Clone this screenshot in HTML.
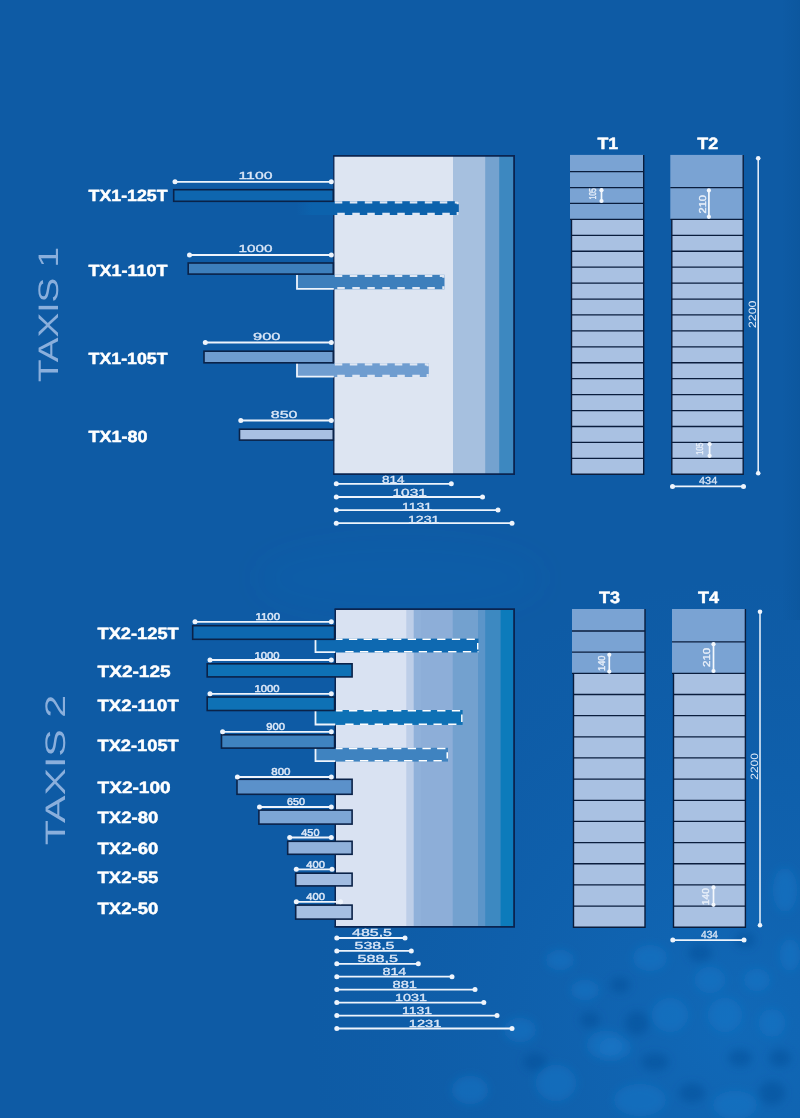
<!DOCTYPE html>
<html lang="en">
<head>
<meta charset="utf-8">
<title>TAXIS 1 / TAXIS 2</title>
<style>
html,body{margin:0;padding:0;background:#0e5ba5;}
body{width:800px;height:1118px;overflow:hidden;}
svg{display:block;font-family:"Liberation Sans",sans-serif;text-rendering:geometricPrecision;filter:blur(0.4px);}
</style>
</head>
<body>
<svg width="800" height="1118" viewBox="0 0 800 1118">
<defs>
<radialGradient id="glow" gradientUnits="userSpaceOnUse" cx="740" cy="1030" r="430" gradientTransform="translate(740 1030) scale(1 1.05) translate(-740 -1030)">
<stop offset="0" stop-color="#1272c4" stop-opacity="0.6"/>
<stop offset="0.45" stop-color="#126cbd" stop-opacity="0.35"/>
<stop offset="1" stop-color="#1066b6" stop-opacity="0"/>
</radialGradient>
<linearGradient id="fade" gradientUnits="userSpaceOnUse" x1="296" y1="0" x2="312" y2="0">
<stop offset="0" stop-color="#0c62ac" stop-opacity="0"/>
<stop offset="1" stop-color="#0c62ac" stop-opacity="1"/>
</linearGradient>
<linearGradient id="redge" gradientUnits="userSpaceOnUse" x1="782" y1="0" x2="800" y2="0">
<stop offset="0" stop-color="#0a5398" stop-opacity="0"/>
<stop offset="1" stop-color="#0a5398" stop-opacity="0.5"/>
</linearGradient>
<filter id="soft2" x="-30%" y="-60%" width="160%" height="220%"><feGaussianBlur stdDeviation="14"/></filter>
<filter id="soft" x="-20%" y="-20%" width="140%" height="140%"><feGaussianBlur stdDeviation="4.5"/></filter>
</defs>
<rect x="0" y="0" width="800" height="1118" fill="#0e5ba5"/>
<rect x="0" y="0" width="800" height="1118" fill="url(#glow)"/>
<ellipse cx="400" cy="578" rx="140" ry="34" fill="#1a6ebd" fill-opacity="0.10" filter="url(#soft2)"/>
<rect x="782" y="0" width="18" height="620" fill="url(#redge)"/>
<g filter="url(#soft)">
<ellipse cx="650" cy="958" rx="17" ry="13" fill="#1b7bca" fill-opacity="0.45"/>
<ellipse cx="710" cy="980" rx="15" ry="13" fill="#1b7bca" fill-opacity="0.45"/>
<ellipse cx="670" cy="1015" rx="18" ry="17" fill="#1b7bca" fill-opacity="0.45"/>
<ellipse cx="725" cy="1015" rx="17" ry="17" fill="#1b7bca" fill-opacity="0.45"/>
<ellipse cx="772" cy="1023" rx="13" ry="14" fill="#1b7bca" fill-opacity="0.45"/>
<ellipse cx="757" cy="980" rx="13" ry="11" fill="#1b7bca" fill-opacity="0.45"/>
<ellipse cx="615" cy="1048" rx="16" ry="11" fill="#1b7bca" fill-opacity="0.45"/>
<ellipse cx="605" cy="1045" rx="18" ry="14" fill="#1b7bca" fill-opacity="0.45"/>
<ellipse cx="556" cy="1083" rx="20" ry="18" fill="#1b7bca" fill-opacity="0.45"/>
<ellipse cx="700" cy="905" rx="16" ry="12" fill="#1b7bca" fill-opacity="0.45"/>
<ellipse cx="785" cy="890" rx="12" ry="22" fill="#1b7bca" fill-opacity="0.45"/>
<ellipse cx="585" cy="990" rx="14" ry="10" fill="#1b7bca" fill-opacity="0.45"/>
<ellipse cx="520" cy="1030" rx="16" ry="12" fill="#1b7bca" fill-opacity="0.45"/>
<ellipse cx="470" cy="1090" rx="18" ry="14" fill="#1b7bca" fill-opacity="0.45"/>
<ellipse cx="640" cy="1100" rx="26" ry="16" fill="#1b7bca" fill-opacity="0.45"/>
<ellipse cx="735" cy="1105" rx="22" ry="14" fill="#1b7bca" fill-opacity="0.45"/>
<ellipse cx="560" cy="960" rx="14" ry="10" fill="#1b7bca" fill-opacity="0.45"/>
<ellipse cx="790" cy="955" rx="10" ry="16" fill="#1b7bca" fill-opacity="0.45"/>
<ellipse cx="692" cy="1093" rx="13" ry="10" fill="#084c94" fill-opacity="0.45"/>
<ellipse cx="772" cy="1093" rx="13" ry="12" fill="#084c94" fill-opacity="0.45"/>
<ellipse cx="637" cy="1023" rx="12" ry="12" fill="#084c94" fill-opacity="0.45"/>
<ellipse cx="700" cy="953" rx="12" ry="9" fill="#084c94" fill-opacity="0.45"/>
<ellipse cx="780" cy="1058" rx="11" ry="9" fill="#084c94" fill-opacity="0.45"/>
<ellipse cx="740" cy="1058" rx="12" ry="9" fill="#084c94" fill-opacity="0.45"/>
<ellipse cx="655" cy="1062" rx="14" ry="9" fill="#084c94" fill-opacity="0.45"/>
<ellipse cx="590" cy="1020" rx="10" ry="8" fill="#084c94" fill-opacity="0.45"/>
<ellipse cx="535" cy="1062" rx="12" ry="9" fill="#084c94" fill-opacity="0.45"/>
<ellipse cx="745" cy="940" rx="10" ry="8" fill="#084c94" fill-opacity="0.45"/>
<ellipse cx="620" cy="985" rx="10" ry="8" fill="#084c94" fill-opacity="0.45"/>
</g>
<rect x="333.80" y="155.90" width="180.30" height="318.20" fill="#dde5f2" />
<rect x="453.00" y="155.90" width="61.10" height="318.20" fill="#a6c0df" />
<rect x="485.20" y="155.90" width="28.90" height="318.20" fill="#74a2cf" />
<rect x="499.20" y="155.90" width="14.90" height="318.20" fill="#3d88c0" />
<path d="M333.80 474.10 V155.90" fill="none" stroke="#0a2450" stroke-width="1.3"/>
<path d="M333.15 155.90 H514.10 V474.10 H333.15" fill="none" stroke="#0a2450" stroke-width="1.8" stroke-linejoin="miter"/>
<rect x="297.00" y="201.20" width="37.80" height="13.80" fill="url(#fade)" />
<rect x="333.80" y="201.20" width="125.00" height="13.80" fill="#0c62ac" />
<path d="M334.80 202.30 H342.30 M349.80 202.30 H357.30 M364.80 202.30 H372.30 M379.80 202.30 H387.30 M394.80 202.30 H402.30 M409.80 202.30 H417.30 M424.80 202.30 H432.30 M439.80 202.30 H447.30 M454.80 202.30 H458.80 M337.30 213.90 H344.80 M352.30 213.90 H359.80 M367.30 213.90 H374.80 M382.30 213.90 H389.80 M397.30 213.90 H404.80 M412.30 213.90 H419.80 M427.30 213.90 H434.80 M442.30 213.90 H449.80 M457.30 213.90 H458.80 M457.70 201.20 V204.20 M457.70 212.00 V215.00" fill="none" stroke="#dfe7f3" stroke-width="2.2"/>
<rect x="297.00" y="274.80" width="147.50" height="14.50" fill="#3d7fbc" />
<path d="M297.00 274.80 V288.90 H333.80" fill="none" stroke="#eef4fc" stroke-width="1.8"/>
<path d="M334.80 275.90 H342.30 M349.80 275.90 H357.30 M364.80 275.90 H372.30 M379.80 275.90 H387.30 M394.80 275.90 H402.30 M409.80 275.90 H417.30 M424.80 275.90 H432.30 M439.80 275.90 H444.50 M337.30 288.20 H344.80 M352.30 288.20 H359.80 M367.30 288.20 H374.80 M382.30 288.20 H389.80 M397.30 288.20 H404.80 M412.30 288.20 H419.80 M427.30 288.20 H434.80 M442.30 288.20 H444.50 M443.40 274.80 V277.80 M443.40 286.30 V289.30" fill="none" stroke="#dfe7f3" stroke-width="2.2"/>
<rect x="297.00" y="363.30" width="131.80" height="13.70" fill="#6f9dd0" />
<path d="M297.00 363.30 V376.60 H333.80" fill="none" stroke="#eef4fc" stroke-width="1.8"/>
<path d="M334.80 364.40 H342.30 M349.80 364.40 H357.30 M364.80 364.40 H372.30 M379.80 364.40 H387.30 M394.80 364.40 H402.30 M409.80 364.40 H417.30 M424.80 364.40 H428.80 M337.30 375.90 H344.80 M352.30 375.90 H359.80 M367.30 375.90 H374.80 M382.30 375.90 H389.80 M397.30 375.90 H404.80 M412.30 375.90 H419.80 M427.30 375.90 H428.80 M427.70 363.30 V366.30 M427.70 374.00 V377.00" fill="none" stroke="#dfe7f3" stroke-width="2.2"/>
<rect x="173.70" y="189.70" width="159.60" height="11.60" fill="#0e66af" stroke="#0a2248" stroke-width="1.6" />
<line x1="175.00" y1="181.80" x2="331.30" y2="181.80" stroke="#eef4fc" stroke-width="1.8" />
<circle cx="175.00" cy="181.80" r="2.5" fill="#eef4fc"/>
<circle cx="331.30" cy="181.80" r="2.5" fill="#eef4fc"/>
<text x="238.50" y="179.20" font-size="10.3" font-weight="normal" fill="#dbe7f7" text-anchor="start" textLength="34.00" lengthAdjust="spacingAndGlyphs" stroke="#dbe7f7" stroke-width="0.3">1100</text>
<text x="88.60" y="201.00" font-size="16.2" font-weight="bold" fill="#ffffff" text-anchor="start" textLength="79.00" lengthAdjust="spacingAndGlyphs" stroke="#ffffff" stroke-width="0.45" stroke-linejoin="round" >TX1-125T</text>
<rect x="188.20" y="263.00" width="145.10" height="11.10" fill="#3d7fbc" stroke="#0a2248" stroke-width="1.6" />
<line x1="189.50" y1="255.00" x2="331.30" y2="255.00" stroke="#eef4fc" stroke-width="1.8" />
<circle cx="189.50" cy="255.00" r="2.5" fill="#eef4fc"/>
<circle cx="331.30" cy="255.00" r="2.5" fill="#eef4fc"/>
<text x="238.50" y="252.20" font-size="10.3" font-weight="normal" fill="#dbe7f7" text-anchor="start" textLength="34.00" lengthAdjust="spacingAndGlyphs" stroke="#dbe7f7" stroke-width="0.3">1000</text>
<text x="88.60" y="276.00" font-size="16.2" font-weight="bold" fill="#ffffff" text-anchor="start" textLength="79.00" lengthAdjust="spacingAndGlyphs" stroke="#ffffff" stroke-width="0.45" stroke-linejoin="round" >TX1-110T</text>
<rect x="204.00" y="351.20" width="129.30" height="11.60" fill="#6f9dd0" stroke="#0a2248" stroke-width="1.6" />
<line x1="205.30" y1="342.50" x2="331.30" y2="342.50" stroke="#eef4fc" stroke-width="1.8" />
<circle cx="205.30" cy="342.50" r="2.5" fill="#eef4fc"/>
<circle cx="331.30" cy="342.50" r="2.5" fill="#eef4fc"/>
<text x="253.00" y="340.00" font-size="10.3" font-weight="normal" fill="#dbe7f7" text-anchor="start" textLength="27.50" lengthAdjust="spacingAndGlyphs" stroke="#dbe7f7" stroke-width="0.3">900</text>
<text x="88.60" y="364.00" font-size="16.2" font-weight="bold" fill="#ffffff" text-anchor="start" textLength="79.00" lengthAdjust="spacingAndGlyphs" stroke="#ffffff" stroke-width="0.45" stroke-linejoin="round" >TX1-105T</text>
<rect x="239.50" y="429.20" width="93.80" height="10.90" fill="#a8c0e2" stroke="#0a2248" stroke-width="1.6" />
<line x1="240.80" y1="420.50" x2="331.30" y2="420.50" stroke="#eef4fc" stroke-width="1.8" />
<circle cx="240.80" cy="420.50" r="2.5" fill="#eef4fc"/>
<circle cx="331.30" cy="420.50" r="2.5" fill="#eef4fc"/>
<text x="270.80" y="417.80" font-size="10.3" font-weight="normal" fill="#dbe7f7" text-anchor="start" textLength="26.70" lengthAdjust="spacingAndGlyphs" stroke="#dbe7f7" stroke-width="0.3">850</text>
<text x="88.60" y="442.00" font-size="16.2" font-weight="bold" fill="#ffffff" text-anchor="start" textLength="59.00" lengthAdjust="spacingAndGlyphs" stroke="#ffffff" stroke-width="0.45" stroke-linejoin="round" >TX1-80</text>
<line x1="336.30" y1="483.80" x2="451.30" y2="483.80" stroke="#eef4fc" stroke-width="1.8" />
<circle cx="336.30" cy="483.80" r="2.5" fill="#eef4fc"/>
<circle cx="451.30" cy="483.80" r="2.5" fill="#eef4fc"/>
<text x="382.00" y="483.20" font-size="10.3" font-weight="normal" fill="#dbe7f7" text-anchor="start" textLength="22.50" lengthAdjust="spacingAndGlyphs" stroke="#dbe7f7" stroke-width="0.3">814</text>
<line x1="336.30" y1="497.00" x2="482.50" y2="497.00" stroke="#eef4fc" stroke-width="1.8" />
<circle cx="336.30" cy="497.00" r="2.5" fill="#eef4fc"/>
<circle cx="482.50" cy="497.00" r="2.5" fill="#eef4fc"/>
<text x="392.50" y="496.40" font-size="10.3" font-weight="normal" fill="#dbe7f7" text-anchor="start" textLength="34.50" lengthAdjust="spacingAndGlyphs" stroke="#dbe7f7" stroke-width="0.3">1031</text>
<line x1="336.30" y1="510.10" x2="498.00" y2="510.10" stroke="#eef4fc" stroke-width="1.8" />
<circle cx="336.30" cy="510.10" r="2.5" fill="#eef4fc"/>
<circle cx="498.00" cy="510.10" r="2.5" fill="#eef4fc"/>
<text x="402.00" y="509.50" font-size="10.3" font-weight="normal" fill="#dbe7f7" text-anchor="start" textLength="30.00" lengthAdjust="spacingAndGlyphs" stroke="#dbe7f7" stroke-width="0.3">1131</text>
<line x1="336.30" y1="523.20" x2="512.00" y2="523.20" stroke="#eef4fc" stroke-width="1.8" />
<circle cx="336.30" cy="523.20" r="2.5" fill="#eef4fc"/>
<circle cx="512.00" cy="523.20" r="2.5" fill="#eef4fc"/>
<text x="408.00" y="522.60" font-size="10.3" font-weight="normal" fill="#dbe7f7" text-anchor="start" textLength="31.50" lengthAdjust="spacingAndGlyphs" stroke="#dbe7f7" stroke-width="0.3">1231</text>
<text x="57.90" y="382.00" font-size="28.2" font-weight="normal" fill="#8aafdc" text-anchor="start" textLength="135.20" lengthAdjust="spacingAndGlyphs" transform="rotate(-90 57.90 382.00)" >TAXIS 1</text>
<rect x="570.00" y="154.90" width="73.70" height="64.49" fill="#7aa3d3" />
<rect x="571.50" y="219.39" width="72.20" height="254.88" fill="#a9c1e2" />
<path d="M643.70 154.90 V474.27 H571.50 V219.39" fill="none" stroke="#0a1d3c" stroke-width="1.4"/>
<line x1="570.00" y1="171.60" x2="643.70" y2="171.60" stroke="#0a1d3c" stroke-width="1.3" />
<line x1="570.00" y1="187.53" x2="643.70" y2="187.53" stroke="#0a1d3c" stroke-width="1.3" />
<line x1="570.00" y1="203.46" x2="643.70" y2="203.46" stroke="#0a1d3c" stroke-width="1.3" />
<line x1="570.00" y1="219.39" x2="643.70" y2="219.39" stroke="#0a1d3c" stroke-width="1.3" />
<line x1="571.50" y1="235.32" x2="643.70" y2="235.32" stroke="#0a1d3c" stroke-width="1.3" />
<line x1="571.50" y1="251.25" x2="643.70" y2="251.25" stroke="#0a1d3c" stroke-width="1.3" />
<line x1="571.50" y1="267.18" x2="643.70" y2="267.18" stroke="#0a1d3c" stroke-width="1.3" />
<line x1="571.50" y1="283.11" x2="643.70" y2="283.11" stroke="#0a1d3c" stroke-width="1.3" />
<line x1="571.50" y1="299.04" x2="643.70" y2="299.04" stroke="#0a1d3c" stroke-width="1.3" />
<line x1="571.50" y1="314.97" x2="643.70" y2="314.97" stroke="#0a1d3c" stroke-width="1.3" />
<line x1="571.50" y1="330.90" x2="643.70" y2="330.90" stroke="#0a1d3c" stroke-width="1.3" />
<line x1="571.50" y1="346.83" x2="643.70" y2="346.83" stroke="#0a1d3c" stroke-width="1.3" />
<line x1="571.50" y1="362.76" x2="643.70" y2="362.76" stroke="#0a1d3c" stroke-width="1.3" />
<line x1="571.50" y1="378.69" x2="643.70" y2="378.69" stroke="#0a1d3c" stroke-width="1.3" />
<line x1="571.50" y1="394.62" x2="643.70" y2="394.62" stroke="#0a1d3c" stroke-width="1.3" />
<line x1="571.50" y1="410.55" x2="643.70" y2="410.55" stroke="#0a1d3c" stroke-width="1.3" />
<line x1="571.50" y1="426.48" x2="643.70" y2="426.48" stroke="#0a1d3c" stroke-width="1.3" />
<line x1="571.50" y1="442.41" x2="643.70" y2="442.41" stroke="#0a1d3c" stroke-width="1.3" />
<line x1="571.50" y1="458.34" x2="643.70" y2="458.34" stroke="#0a1d3c" stroke-width="1.3" />
<text x="597.50" y="148.80" font-size="16.4" font-weight="bold" fill="#ffffff" text-anchor="start" textLength="20.70" lengthAdjust="spacingAndGlyphs" stroke="#ffffff" stroke-width="0.45" stroke-linejoin="round" >T1</text>
<rect x="670.30" y="154.90" width="72.90" height="64.49" fill="#7aa3d3" />
<rect x="671.80" y="219.39" width="71.40" height="254.88" fill="#a9c1e2" />
<path d="M743.20 154.90 V474.27 H671.80 V219.39" fill="none" stroke="#0a1d3c" stroke-width="1.4"/>
<line x1="670.30" y1="187.53" x2="743.20" y2="187.53" stroke="#0a1d3c" stroke-width="1.3" />
<line x1="670.30" y1="219.39" x2="743.20" y2="219.39" stroke="#0a1d3c" stroke-width="1.3" />
<line x1="671.80" y1="235.32" x2="743.20" y2="235.32" stroke="#0a1d3c" stroke-width="1.3" />
<line x1="671.80" y1="251.25" x2="743.20" y2="251.25" stroke="#0a1d3c" stroke-width="1.3" />
<line x1="671.80" y1="267.18" x2="743.20" y2="267.18" stroke="#0a1d3c" stroke-width="1.3" />
<line x1="671.80" y1="283.11" x2="743.20" y2="283.11" stroke="#0a1d3c" stroke-width="1.3" />
<line x1="671.80" y1="299.04" x2="743.20" y2="299.04" stroke="#0a1d3c" stroke-width="1.3" />
<line x1="671.80" y1="314.97" x2="743.20" y2="314.97" stroke="#0a1d3c" stroke-width="1.3" />
<line x1="671.80" y1="330.90" x2="743.20" y2="330.90" stroke="#0a1d3c" stroke-width="1.3" />
<line x1="671.80" y1="346.83" x2="743.20" y2="346.83" stroke="#0a1d3c" stroke-width="1.3" />
<line x1="671.80" y1="362.76" x2="743.20" y2="362.76" stroke="#0a1d3c" stroke-width="1.3" />
<line x1="671.80" y1="378.69" x2="743.20" y2="378.69" stroke="#0a1d3c" stroke-width="1.3" />
<line x1="671.80" y1="394.62" x2="743.20" y2="394.62" stroke="#0a1d3c" stroke-width="1.3" />
<line x1="671.80" y1="410.55" x2="743.20" y2="410.55" stroke="#0a1d3c" stroke-width="1.3" />
<line x1="671.80" y1="426.48" x2="743.20" y2="426.48" stroke="#0a1d3c" stroke-width="1.3" />
<line x1="671.80" y1="442.41" x2="743.20" y2="442.41" stroke="#0a1d3c" stroke-width="1.3" />
<line x1="671.80" y1="458.34" x2="743.20" y2="458.34" stroke="#0a1d3c" stroke-width="1.3" />
<text x="697.30" y="148.80" font-size="16.4" font-weight="bold" fill="#ffffff" text-anchor="start" textLength="20.90" lengthAdjust="spacingAndGlyphs" stroke="#ffffff" stroke-width="0.45" stroke-linejoin="round" >T2</text>
<line x1="601.50" y1="189.60" x2="601.50" y2="201.60" stroke="#f4f8fd" stroke-width="1.7" />
<circle cx="601.50" cy="190.20" r="2.1" fill="#f4f8fd"/>
<circle cx="601.50" cy="201.00" r="2.1" fill="#f4f8fd"/>
<text x="595.90" y="199.60" font-size="10.0" font-weight="normal" fill="#e9f0fa" text-anchor="start" textLength="11.40" lengthAdjust="spacingAndGlyphs" transform="rotate(-90 595.90 199.60)" stroke="#e9f0fa" stroke-width="0.35">105</text>
<line x1="708.90" y1="189.80" x2="708.90" y2="217.40" stroke="#f4f8fd" stroke-width="1.7" />
<circle cx="708.90" cy="190.40" r="2.1" fill="#f4f8fd"/>
<circle cx="708.90" cy="216.80" r="2.1" fill="#f4f8fd"/>
<text x="706.20" y="213.50" font-size="10.0" font-weight="normal" fill="#e9f0fa" text-anchor="start" textLength="18.50" lengthAdjust="spacingAndGlyphs" transform="rotate(-90 706.20 213.50)" stroke="#e9f0fa" stroke-width="0.35">210</text>
<line x1="709.60" y1="443.60" x2="709.60" y2="456.40" stroke="#f4f8fd" stroke-width="1.7" />
<circle cx="709.60" cy="444.20" r="2.1" fill="#f4f8fd"/>
<circle cx="709.60" cy="455.80" r="2.1" fill="#f4f8fd"/>
<text x="703.20" y="454.80" font-size="10.0" font-weight="normal" fill="#e9f0fa" text-anchor="start" textLength="12.20" lengthAdjust="spacingAndGlyphs" transform="rotate(-90 703.20 454.80)" stroke="#e9f0fa" stroke-width="0.35">105</text>
<line x1="758.20" y1="158.20" x2="758.20" y2="473.20" stroke="#eef4fc" stroke-width="1.5" />
<circle cx="758.20" cy="158.20" r="2.3" fill="#eef4fc"/>
<circle cx="758.20" cy="473.20" r="2.3" fill="#eef4fc"/>
<text x="756.00" y="328.00" font-size="10.6" font-weight="normal" fill="#e0eaf8" text-anchor="start" textLength="27.50" lengthAdjust="spacingAndGlyphs" transform="rotate(-90 756.00 328.00)" >2200</text>
<line x1="672.50" y1="486.40" x2="743.50" y2="486.40" stroke="#eef4fc" stroke-width="1.8" />
<circle cx="672.50" cy="486.40" r="2.5" fill="#eef4fc"/>
<circle cx="743.50" cy="486.40" r="2.5" fill="#eef4fc"/>
<text x="699.00" y="484.20" font-size="10.3" font-weight="normal" fill="#dbe7f7" text-anchor="start" textLength="18.30" lengthAdjust="spacingAndGlyphs" stroke="#dbe7f7" stroke-width="0.3">434</text>
<rect x="335.25" y="609.10" width="178.85" height="317.80" fill="#d9e2f2" />
<rect x="406.30" y="609.10" width="107.80" height="317.80" fill="#bdcee8" />
<rect x="413.70" y="609.10" width="100.40" height="317.80" fill="#90b1da" />
<rect x="421.00" y="609.10" width="93.10" height="317.80" fill="#8daed8" />
<rect x="452.70" y="609.10" width="61.40" height="317.80" fill="#73a1cf" />
<rect x="478.00" y="609.10" width="36.10" height="317.80" fill="#5b95c9" />
<rect x="485.20" y="609.10" width="28.90" height="317.80" fill="#3d89c1" />
<rect x="500.60" y="609.10" width="13.50" height="317.80" fill="#0c7bbb" />
<path d="M335.25 926.90 V609.10" fill="none" stroke="#0a2450" stroke-width="1.5"/>
<path d="M334.50 609.10 H514.10 V926.90 H334.50" fill="none" stroke="#0a2450" stroke-width="1.8" stroke-linejoin="miter"/>
<rect x="315.50" y="638.60" width="163.00" height="13.90" fill="#0e69b1" />
<path d="M315.50 638.60 V652.10 H335.25" fill="none" stroke="#eef4fc" stroke-width="1.8"/>
<path d="M336.05 639.35 H342.55 M348.95 639.35 H357.25 M363.65 639.35 H371.95 M378.35 639.35 H386.65 M393.05 639.35 H401.35 M407.75 639.35 H416.05 M422.45 639.35 H430.75 M437.15 639.35 H445.45 M451.85 639.35 H460.15 M466.55 639.35 H474.85 M345.25 651.75 H353.55 M359.95 651.75 H368.25 M374.65 651.75 H382.95 M389.35 651.75 H397.65 M404.05 651.75 H412.35 M418.75 651.75 H427.05 M433.45 651.75 H441.75 M448.15 651.75 H456.45 M462.85 651.75 H471.15 M477.55 651.75 H478.50 M477.75 643.10 V649.50" fill="none" stroke="#ffffff" stroke-width="1.5"/>
<rect x="315.50" y="710.00" width="147.10" height="14.90" fill="#0e71b5" />
<path d="M315.50 710.00 V724.50 H335.25" fill="none" stroke="#eef4fc" stroke-width="1.8"/>
<path d="M336.05 710.75 H342.55 M348.95 710.75 H357.25 M363.65 710.75 H371.95 M378.35 710.75 H386.65 M393.05 710.75 H401.35 M407.75 710.75 H416.05 M422.45 710.75 H430.75 M437.15 710.75 H445.45 M451.85 710.75 H460.15 M345.25 724.15 H353.55 M359.95 724.15 H368.25 M374.65 724.15 H382.95 M389.35 724.15 H397.65 M404.05 724.15 H412.35 M418.75 724.15 H427.05 M433.45 724.15 H441.75 M448.15 724.15 H456.45 M461.85 714.50 V721.90" fill="none" stroke="#ffffff" stroke-width="1.5"/>
<rect x="315.50" y="747.80" width="132.50" height="13.80" fill="#3f83c0" />
<path d="M315.50 747.80 V761.20 H335.25" fill="none" stroke="#eef4fc" stroke-width="1.8"/>
<path d="M336.05 748.55 H342.55 M348.95 748.55 H357.25 M363.65 748.55 H371.95 M378.35 748.55 H386.65 M393.05 748.55 H401.35 M407.75 748.55 H416.05 M422.45 748.55 H430.75 M437.15 748.55 H445.45 M345.25 760.85 H353.55 M359.95 760.85 H368.25 M374.65 760.85 H382.95 M389.35 760.85 H397.65 M404.05 760.85 H412.35 M418.75 760.85 H427.05 M433.45 760.85 H441.75 M447.25 752.30 V758.60" fill="none" stroke="#ffffff" stroke-width="1.5"/>
<rect x="192.70" y="625.70" width="141.90" height="13.60" fill="#0d68b0" stroke="#0a2248" stroke-width="1.6" />
<line x1="195.00" y1="621.80" x2="331.30" y2="621.80" stroke="#eef4fc" stroke-width="1.8" />
<circle cx="195.00" cy="621.80" r="2.5" fill="#eef4fc"/>
<circle cx="331.30" cy="621.80" r="2.5" fill="#eef4fc"/>
<text x="255.50" y="620.40" font-size="10.0" font-weight="normal" fill="#dbe7f7" text-anchor="start" textLength="24.50" lengthAdjust="spacingAndGlyphs" stroke="#dbe7f7" stroke-width="0.5">1100</text>
<text x="97.50" y="639.30" font-size="16.4" font-weight="bold" fill="#ffffff" text-anchor="start" textLength="81.20" lengthAdjust="spacingAndGlyphs" stroke="#ffffff" stroke-width="0.45" stroke-linejoin="round" >TX2-125T</text>
<rect x="207.20" y="663.80" width="144.90" height="13.10" fill="#0e71b5" stroke="#0a2248" stroke-width="1.6" />
<line x1="210.00" y1="660.00" x2="331.30" y2="660.00" stroke="#eef4fc" stroke-width="1.8" />
<circle cx="210.00" cy="660.00" r="2.5" fill="#eef4fc"/>
<circle cx="331.30" cy="660.00" r="2.5" fill="#eef4fc"/>
<text x="254.50" y="658.60" font-size="10.0" font-weight="normal" fill="#dbe7f7" text-anchor="start" textLength="25.00" lengthAdjust="spacingAndGlyphs" stroke="#dbe7f7" stroke-width="0.5">1000</text>
<text x="97.50" y="677.30" font-size="16.4" font-weight="bold" fill="#ffffff" text-anchor="start" textLength="73.20" lengthAdjust="spacingAndGlyphs" stroke="#ffffff" stroke-width="0.45" stroke-linejoin="round" >TX2-125</text>
<rect x="207.20" y="697.00" width="127.40" height="13.50" fill="#0e71b5" stroke="#0a2248" stroke-width="1.6" />
<line x1="210.00" y1="693.80" x2="331.30" y2="693.80" stroke="#eef4fc" stroke-width="1.8" />
<circle cx="210.00" cy="693.80" r="2.5" fill="#eef4fc"/>
<circle cx="331.30" cy="693.80" r="2.5" fill="#eef4fc"/>
<text x="254.50" y="692.40" font-size="10.0" font-weight="normal" fill="#dbe7f7" text-anchor="start" textLength="25.00" lengthAdjust="spacingAndGlyphs" stroke="#dbe7f7" stroke-width="0.5">1000</text>
<text x="97.50" y="710.80" font-size="16.4" font-weight="bold" fill="#ffffff" text-anchor="start" textLength="81.20" lengthAdjust="spacingAndGlyphs" stroke="#ffffff" stroke-width="0.45" stroke-linejoin="round" >TX2-110T</text>
<rect x="221.50" y="734.80" width="113.10" height="13.30" fill="#3f83c0" stroke="#0a2248" stroke-width="1.6" />
<line x1="222.60" y1="731.80" x2="331.30" y2="731.80" stroke="#eef4fc" stroke-width="1.8" />
<circle cx="222.60" cy="731.80" r="2.5" fill="#eef4fc"/>
<circle cx="331.30" cy="731.80" r="2.5" fill="#eef4fc"/>
<text x="266.30" y="730.20" font-size="10.0" font-weight="normal" fill="#dbe7f7" text-anchor="start" textLength="18.70" lengthAdjust="spacingAndGlyphs" stroke="#dbe7f7" stroke-width="0.5">900</text>
<text x="97.50" y="750.60" font-size="16.4" font-weight="bold" fill="#ffffff" text-anchor="start" textLength="81.20" lengthAdjust="spacingAndGlyphs" stroke="#ffffff" stroke-width="0.45" stroke-linejoin="round" >TX2-105T</text>
<rect x="237.00" y="779.30" width="115.10" height="15.00" fill="#5b91ca" stroke="#0a2248" stroke-width="1.6" />
<line x1="237.40" y1="777.00" x2="331.30" y2="777.00" stroke="#eef4fc" stroke-width="1.8" />
<circle cx="237.40" cy="777.00" r="2.5" fill="#eef4fc"/>
<circle cx="331.30" cy="777.00" r="2.5" fill="#eef4fc"/>
<text x="271.30" y="774.60" font-size="10.0" font-weight="normal" fill="#dbe7f7" text-anchor="start" textLength="19.20" lengthAdjust="spacingAndGlyphs" stroke="#dbe7f7" stroke-width="0.5">800</text>
<text x="97.50" y="793.10" font-size="16.4" font-weight="bold" fill="#ffffff" text-anchor="start" textLength="73.20" lengthAdjust="spacingAndGlyphs" stroke="#ffffff" stroke-width="0.45" stroke-linejoin="round" >TX2-100</text>
<rect x="258.90" y="810.10" width="93.20" height="14.00" fill="#7da6d5" stroke="#0a2248" stroke-width="1.6" />
<line x1="259.50" y1="807.00" x2="331.30" y2="807.00" stroke="#eef4fc" stroke-width="1.8" />
<circle cx="259.50" cy="807.00" r="2.5" fill="#eef4fc"/>
<circle cx="331.30" cy="807.00" r="2.5" fill="#eef4fc"/>
<text x="287.00" y="804.60" font-size="10.0" font-weight="normal" fill="#dbe7f7" text-anchor="start" textLength="18.00" lengthAdjust="spacingAndGlyphs" stroke="#dbe7f7" stroke-width="0.5">650</text>
<text x="97.50" y="823.10" font-size="16.4" font-weight="bold" fill="#ffffff" text-anchor="start" textLength="60.80" lengthAdjust="spacingAndGlyphs" stroke="#ffffff" stroke-width="0.45" stroke-linejoin="round" >TX2-80</text>
<rect x="287.70" y="841.30" width="64.40" height="13.00" fill="#90b1db" stroke="#0a2248" stroke-width="1.6" />
<line x1="289.70" y1="837.50" x2="331.30" y2="837.50" stroke="#eef4fc" stroke-width="1.8" />
<circle cx="289.70" cy="837.50" r="2.5" fill="#eef4fc"/>
<circle cx="331.30" cy="837.50" r="2.5" fill="#eef4fc"/>
<text x="301.30" y="835.60" font-size="10.0" font-weight="normal" fill="#dbe7f7" text-anchor="start" textLength="18.20" lengthAdjust="spacingAndGlyphs" stroke="#dbe7f7" stroke-width="0.5">450</text>
<text x="97.50" y="853.60" font-size="16.4" font-weight="bold" fill="#ffffff" text-anchor="start" textLength="60.80" lengthAdjust="spacingAndGlyphs" stroke="#ffffff" stroke-width="0.45" stroke-linejoin="round" >TX2-60</text>
<rect x="295.70" y="873.20" width="56.40" height="12.70" fill="#a1bce1" stroke="#0a2248" stroke-width="1.6" />
<line x1="296.30" y1="869.30" x2="332.00" y2="869.30" stroke="#eef4fc" stroke-width="1.8" />
<circle cx="296.30" cy="869.30" r="2.5" fill="#eef4fc"/>
<circle cx="332.00" cy="869.30" r="2.5" fill="#eef4fc"/>
<text x="306.30" y="867.60" font-size="10.0" font-weight="normal" fill="#dbe7f7" text-anchor="start" textLength="18.70" lengthAdjust="spacingAndGlyphs" stroke="#dbe7f7" stroke-width="0.5">400</text>
<text x="97.50" y="883.10" font-size="16.4" font-weight="bold" fill="#ffffff" text-anchor="start" textLength="60.80" lengthAdjust="spacingAndGlyphs" stroke="#ffffff" stroke-width="0.45" stroke-linejoin="round" >TX2-55</text>
<rect x="295.70" y="905.10" width="56.40" height="14.00" fill="#a5bfe2" stroke="#0a2248" stroke-width="1.6" />
<line x1="296.30" y1="901.80" x2="340.50" y2="901.80" stroke="#eef4fc" stroke-width="1.8" />
<circle cx="296.30" cy="901.80" r="2.5" fill="#eef4fc"/>
<circle cx="340.50" cy="901.80" r="2.5" fill="#eef4fc"/>
<text x="306.30" y="900.20" font-size="10.0" font-weight="normal" fill="#dbe7f7" text-anchor="start" textLength="18.70" lengthAdjust="spacingAndGlyphs" stroke="#dbe7f7" stroke-width="0.5">400</text>
<text x="97.50" y="913.60" font-size="16.4" font-weight="bold" fill="#ffffff" text-anchor="start" textLength="60.80" lengthAdjust="spacingAndGlyphs" stroke="#ffffff" stroke-width="0.45" stroke-linejoin="round" >TX2-50</text>
<line x1="336.80" y1="938.00" x2="405.00" y2="938.00" stroke="#eef4fc" stroke-width="1.8" />
<circle cx="336.80" cy="938.00" r="2.5" fill="#eef4fc"/>
<circle cx="405.00" cy="938.00" r="2.5" fill="#eef4fc"/>
<text x="352.00" y="936.20" font-size="10.3" font-weight="normal" fill="#dbe7f7" text-anchor="start" textLength="40.00" lengthAdjust="spacingAndGlyphs" stroke="#dbe7f7" stroke-width="0.3">485,5</text>
<line x1="336.80" y1="950.90" x2="411.30" y2="950.90" stroke="#eef4fc" stroke-width="1.8" />
<circle cx="336.80" cy="950.90" r="2.5" fill="#eef4fc"/>
<circle cx="411.30" cy="950.90" r="2.5" fill="#eef4fc"/>
<text x="354.50" y="949.10" font-size="10.3" font-weight="normal" fill="#dbe7f7" text-anchor="start" textLength="40.00" lengthAdjust="spacingAndGlyphs" stroke="#dbe7f7" stroke-width="0.3">538,5</text>
<line x1="336.80" y1="963.80" x2="418.30" y2="963.80" stroke="#eef4fc" stroke-width="1.8" />
<circle cx="336.80" cy="963.80" r="2.5" fill="#eef4fc"/>
<circle cx="418.30" cy="963.80" r="2.5" fill="#eef4fc"/>
<text x="357.50" y="962.00" font-size="10.3" font-weight="normal" fill="#dbe7f7" text-anchor="start" textLength="40.50" lengthAdjust="spacingAndGlyphs" stroke="#dbe7f7" stroke-width="0.3">588,5</text>
<line x1="336.80" y1="976.70" x2="452.00" y2="976.70" stroke="#eef4fc" stroke-width="1.8" />
<circle cx="336.80" cy="976.70" r="2.5" fill="#eef4fc"/>
<circle cx="452.00" cy="976.70" r="2.5" fill="#eef4fc"/>
<text x="382.50" y="974.90" font-size="10.3" font-weight="normal" fill="#dbe7f7" text-anchor="start" textLength="23.80" lengthAdjust="spacingAndGlyphs" stroke="#dbe7f7" stroke-width="0.3">814</text>
<line x1="336.80" y1="989.60" x2="475.00" y2="989.60" stroke="#eef4fc" stroke-width="1.8" />
<circle cx="336.80" cy="989.60" r="2.5" fill="#eef4fc"/>
<circle cx="475.00" cy="989.60" r="2.5" fill="#eef4fc"/>
<text x="392.50" y="987.80" font-size="10.3" font-weight="normal" fill="#dbe7f7" text-anchor="start" textLength="24.50" lengthAdjust="spacingAndGlyphs" stroke="#dbe7f7" stroke-width="0.3">881</text>
<line x1="336.80" y1="1002.60" x2="483.80" y2="1002.60" stroke="#eef4fc" stroke-width="1.8" />
<circle cx="336.80" cy="1002.60" r="2.5" fill="#eef4fc"/>
<circle cx="483.80" cy="1002.60" r="2.5" fill="#eef4fc"/>
<text x="395.00" y="1000.80" font-size="10.3" font-weight="normal" fill="#dbe7f7" text-anchor="start" textLength="32.00" lengthAdjust="spacingAndGlyphs" stroke="#dbe7f7" stroke-width="0.3">1031</text>
<line x1="336.80" y1="1015.60" x2="497.00" y2="1015.60" stroke="#eef4fc" stroke-width="1.8" />
<circle cx="336.80" cy="1015.60" r="2.5" fill="#eef4fc"/>
<circle cx="497.00" cy="1015.60" r="2.5" fill="#eef4fc"/>
<text x="402.00" y="1013.80" font-size="10.3" font-weight="normal" fill="#dbe7f7" text-anchor="start" textLength="30.00" lengthAdjust="spacingAndGlyphs" stroke="#dbe7f7" stroke-width="0.3">1131</text>
<line x1="336.80" y1="1028.50" x2="512.00" y2="1028.50" stroke="#eef4fc" stroke-width="1.8" />
<circle cx="336.80" cy="1028.50" r="2.5" fill="#eef4fc"/>
<circle cx="512.00" cy="1028.50" r="2.5" fill="#eef4fc"/>
<text x="408.80" y="1026.70" font-size="10.3" font-weight="normal" fill="#dbe7f7" text-anchor="start" textLength="32.50" lengthAdjust="spacingAndGlyphs" stroke="#dbe7f7" stroke-width="0.3">1231</text>
<text x="65.00" y="845.20" font-size="28.2" font-weight="normal" fill="#8aafdc" text-anchor="start" textLength="150.40" lengthAdjust="spacingAndGlyphs" transform="rotate(-90 65.00 845.20)" >TAXIS 2</text>
<rect x="572.00" y="609.00" width="73.00" height="64.32" fill="#7aa3d3" />
<rect x="573.50" y="673.32" width="71.50" height="253.92" fill="#a9c1e2" />
<path d="M645.00 609.00 V927.24 H573.50 V673.32" fill="none" stroke="#0a1d3c" stroke-width="1.4"/>
<line x1="572.00" y1="631.00" x2="645.00" y2="631.00" stroke="#0a1d3c" stroke-width="1.3" />
<line x1="572.00" y1="652.16" x2="645.00" y2="652.16" stroke="#0a1d3c" stroke-width="1.3" />
<line x1="572.00" y1="673.32" x2="645.00" y2="673.32" stroke="#0a1d3c" stroke-width="1.3" />
<line x1="573.50" y1="694.48" x2="645.00" y2="694.48" stroke="#0a1d3c" stroke-width="1.3" />
<line x1="573.50" y1="715.64" x2="645.00" y2="715.64" stroke="#0a1d3c" stroke-width="1.3" />
<line x1="573.50" y1="736.80" x2="645.00" y2="736.80" stroke="#0a1d3c" stroke-width="1.3" />
<line x1="573.50" y1="757.96" x2="645.00" y2="757.96" stroke="#0a1d3c" stroke-width="1.3" />
<line x1="573.50" y1="779.12" x2="645.00" y2="779.12" stroke="#0a1d3c" stroke-width="1.3" />
<line x1="573.50" y1="800.28" x2="645.00" y2="800.28" stroke="#0a1d3c" stroke-width="1.3" />
<line x1="573.50" y1="821.44" x2="645.00" y2="821.44" stroke="#0a1d3c" stroke-width="1.3" />
<line x1="573.50" y1="842.60" x2="645.00" y2="842.60" stroke="#0a1d3c" stroke-width="1.3" />
<line x1="573.50" y1="863.76" x2="645.00" y2="863.76" stroke="#0a1d3c" stroke-width="1.3" />
<line x1="573.50" y1="884.92" x2="645.00" y2="884.92" stroke="#0a1d3c" stroke-width="1.3" />
<line x1="573.50" y1="906.08" x2="645.00" y2="906.08" stroke="#0a1d3c" stroke-width="1.3" />
<text x="599.00" y="603.00" font-size="16.4" font-weight="bold" fill="#ffffff" text-anchor="start" textLength="21.00" lengthAdjust="spacingAndGlyphs" stroke="#ffffff" stroke-width="0.45" stroke-linejoin="round" >T3</text>
<rect x="672.00" y="609.00" width="73.40" height="64.32" fill="#7aa3d3" />
<rect x="673.50" y="673.32" width="71.90" height="253.92" fill="#a9c1e2" />
<path d="M745.40 609.00 V927.24 H673.50 V673.32" fill="none" stroke="#0a1d3c" stroke-width="1.4"/>
<line x1="672.00" y1="673.32" x2="745.40" y2="673.32" stroke="#0a1d3c" stroke-width="1.3" />
<line x1="673.50" y1="694.48" x2="745.40" y2="694.48" stroke="#0a1d3c" stroke-width="1.3" />
<line x1="673.50" y1="715.64" x2="745.40" y2="715.64" stroke="#0a1d3c" stroke-width="1.3" />
<line x1="673.50" y1="736.80" x2="745.40" y2="736.80" stroke="#0a1d3c" stroke-width="1.3" />
<line x1="673.50" y1="757.96" x2="745.40" y2="757.96" stroke="#0a1d3c" stroke-width="1.3" />
<line x1="673.50" y1="779.12" x2="745.40" y2="779.12" stroke="#0a1d3c" stroke-width="1.3" />
<line x1="673.50" y1="800.28" x2="745.40" y2="800.28" stroke="#0a1d3c" stroke-width="1.3" />
<line x1="673.50" y1="821.44" x2="745.40" y2="821.44" stroke="#0a1d3c" stroke-width="1.3" />
<line x1="673.50" y1="842.60" x2="745.40" y2="842.60" stroke="#0a1d3c" stroke-width="1.3" />
<line x1="673.50" y1="863.76" x2="745.40" y2="863.76" stroke="#0a1d3c" stroke-width="1.3" />
<line x1="673.50" y1="884.92" x2="745.40" y2="884.92" stroke="#0a1d3c" stroke-width="1.3" />
<line x1="673.50" y1="906.08" x2="745.40" y2="906.08" stroke="#0a1d3c" stroke-width="1.3" />
<text x="698.00" y="603.00" font-size="16.4" font-weight="bold" fill="#ffffff" text-anchor="start" textLength="21.00" lengthAdjust="spacingAndGlyphs" stroke="#ffffff" stroke-width="0.45" stroke-linejoin="round" >T4</text>
<line x1="672.00" y1="641.90" x2="745.40" y2="641.90" stroke="#0a1d3c" stroke-width="1.3" />
<line x1="609.30" y1="654.20" x2="609.30" y2="672.20" stroke="#f4f8fd" stroke-width="1.7" />
<circle cx="609.30" cy="654.80" r="2.1" fill="#f4f8fd"/>
<circle cx="609.30" cy="671.60" r="2.1" fill="#f4f8fd"/>
<text x="604.80" y="671.00" font-size="10.0" font-weight="normal" fill="#e9f0fa" text-anchor="start" textLength="15.50" lengthAdjust="spacingAndGlyphs" transform="rotate(-90 604.80 671.00)" stroke="#e9f0fa" stroke-width="0.35">140</text>
<line x1="713.50" y1="643.60" x2="713.50" y2="671.60" stroke="#f4f8fd" stroke-width="1.7" />
<circle cx="713.50" cy="644.20" r="2.1" fill="#f4f8fd"/>
<circle cx="713.50" cy="671.00" r="2.1" fill="#f4f8fd"/>
<text x="710.10" y="667.00" font-size="10.0" font-weight="normal" fill="#e9f0fa" text-anchor="start" textLength="19.20" lengthAdjust="spacingAndGlyphs" transform="rotate(-90 710.10 667.00)" stroke="#e9f0fa" stroke-width="0.35">210</text>
<line x1="713.50" y1="886.80" x2="713.50" y2="905.40" stroke="#f4f8fd" stroke-width="1.7" />
<circle cx="713.50" cy="887.40" r="2.1" fill="#f4f8fd"/>
<circle cx="713.50" cy="904.80" r="2.1" fill="#f4f8fd"/>
<text x="709.00" y="905.00" font-size="10.0" font-weight="normal" fill="#e9f0fa" text-anchor="start" textLength="16.80" lengthAdjust="spacingAndGlyphs" transform="rotate(-90 709.00 905.00)" stroke="#e9f0fa" stroke-width="0.35">140</text>
<line x1="760.00" y1="611.70" x2="760.00" y2="925.20" stroke="#eef4fc" stroke-width="1.5" />
<circle cx="760.00" cy="611.70" r="2.3" fill="#eef4fc"/>
<circle cx="760.00" cy="925.20" r="2.3" fill="#eef4fc"/>
<text x="757.80" y="779.80" font-size="10.6" font-weight="normal" fill="#e0eaf8" text-anchor="start" textLength="26.80" lengthAdjust="spacingAndGlyphs" transform="rotate(-90 757.80 779.80)" >2200</text>
<line x1="672.80" y1="940.10" x2="744.00" y2="940.10" stroke="#eef4fc" stroke-width="1.8" />
<circle cx="672.80" cy="940.10" r="2.5" fill="#eef4fc"/>
<circle cx="744.00" cy="940.10" r="2.5" fill="#eef4fc"/>
<text x="701.00" y="937.60" font-size="10.3" font-weight="normal" fill="#dbe7f7" text-anchor="start" textLength="17.00" lengthAdjust="spacingAndGlyphs" stroke="#dbe7f7" stroke-width="0.3">434</text>
</svg>
</body>
</html>
